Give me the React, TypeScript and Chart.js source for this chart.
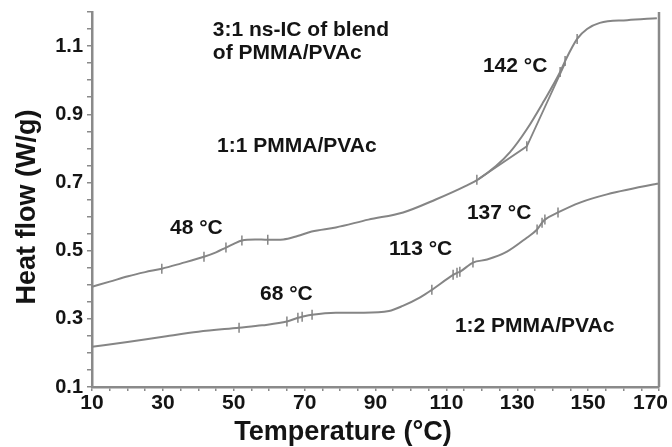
import React, { useEffect, useRef } from 'react';
import { Chart, registerables } from 'chart.js';

Chart.register(...registerables);

// DSC traces: temperature (°C) and heat flow (W/g)
const upperTemp = [10, 15, 20.2, 25, 29.7, 35, 41.6, 45, 47.8, 50, 52.3, 56, 59.6, 64, 68, 72, 78.8, 88, 97.8, 107, 115.5, 119.1, 124, 127.9, 132.7, 137.3, 142.1, 143.5, 146.9, 149.7, 153.3, 161, 169.4];
const upperFlow = [0.394, 0.409, 0.425, 0.437, 0.447, 0.462, 0.482, 0.495, 0.509, 0.52, 0.53, 0.533, 0.532, 0.533, 0.543, 0.556, 0.568, 0.591, 0.612, 0.65, 0.69, 0.71, 0.748, 0.788, 0.856, 0.935, 1.024, 1.056, 1.121, 1.15, 1.168, 1.176, 1.182];

// Onset construction line on the upper trace
const tangentTemp = [119.1, 132.7, 143.5];
const tangentFlow = [0.71, 0.806, 1.05];

const lowerTemp = [10, 20, 31, 40, 51.5, 58, 65, 68.1, 69.3, 72.1, 78.8, 86.7, 93.8, 97.7, 102.6, 105.9, 111.9, 113, 113.8, 117.5, 121.5, 127.1, 132.7, 135.6, 137, 137.8, 141.5, 147.7, 155.3, 168.3, 170];
const lowerFlow = [0.218, 0.232, 0.249, 0.262, 0.274, 0.281, 0.292, 0.303, 0.306, 0.312, 0.318, 0.318, 0.323, 0.338, 0.363, 0.385, 0.429, 0.435, 0.438, 0.465, 0.474, 0.497, 0.538, 0.562, 0.582, 0.591, 0.612, 0.641, 0.665, 0.694, 0.697];

// Analysis tick marks placed on the traces
const markTemp = [29.7, 41.6, 47.8, 52.3, 59.6, 118.6, 132.7, 142.1, 143.5, 146.9, 51.5, 65, 68.1, 69.3, 72.1, 105.9, 111.9, 113, 113.8, 117.5, 135.6, 137, 137.8, 141.5];
const markFlow = [0.447, 0.482, 0.509, 0.53, 0.532, 0.708, 0.806, 1.024, 1.056, 1.121, 0.274, 0.292, 0.303, 0.306, 0.312, 0.385, 0.429, 0.435, 0.438, 0.465, 0.562, 0.582, 0.591, 0.612];

// Axis tick labels
const xLabels = [10, 30, 50, 70, 90, 110, 130, 150, 170];
const yLabels = [0.1, 0.3, 0.5, 0.7, 0.9, 1.1];

// Text notes anchored in data coordinates (left edge, baseline)
const noteText = ['3:1 ns-IC of blend', 'of PMMA/PVAc', '1:1 PMMA/PVAc', '48 °C', '68 °C', '113 °C', '137 °C', '142 °C', '1:2 PMMA/PVAc'];
const noteTemp = [44.1, 44.1, 45.3, 32, 57.4, 93.8, 115.8, 120.3, 112.4];
const noteFlow = [1.129, 1.062, 0.788, 0.55, 0.356, 0.488, 0.594, 1.024, 0.262];

const xTitle = 'Temperature (°C)';
const yTitle = 'Heat flow (W/g)';

const FONT = "'Liberation Sans', Arial, sans-serif";
const AXIS = '#8a8a8a';
const TRACE = '#858585';
const TEXT = '#141414';

const toPoints = (xs: number[], ys: number[]) => xs.map((x, i) => ({ x, y: ys[i] }));

const overlay = {
  id: 'overlay',
  afterDraw(chart: any) {
    const { ctx, chartArea, scales, width } = chart;
    const xs = scales.x;
    const ys = scales.y;
    ctx.save();
    // right frame line
    ctx.strokeStyle = AXIS;
    ctx.lineWidth = 2.5;
    ctx.beginPath();
    ctx.moveTo(chartArea.right, chartArea.top);
    ctx.lineTo(chartArea.right, chartArea.bottom);
    ctx.stroke();

    ctx.fillStyle = TEXT;

    // x tick labels, kept inside the canvas
    ctx.font = `bold 21px ${FONT}`;
    ctx.textAlign = 'center';
    ctx.textBaseline = 'top';
    xLabels.forEach((v) => {
      const label = String(v);
      const half = ctx.measureText(label).width / 2;
      const cx = Math.min(xs.getPixelForValue(v), width - half - 4);
      ctx.fillText(label, cx, chartArea.bottom + 6);
    });

    // notes
    ctx.font = `bold 21px ${FONT}`;
    ctx.textAlign = 'left';
    ctx.textBaseline = 'alphabetic';
    noteText.forEach((t, i) => {
      ctx.fillText(t, xs.getPixelForValue(noteTemp[i]), ys.getPixelForValue(noteFlow[i]));
    });

    // axis titles
    ctx.font = `bold 27px ${FONT}`;
    ctx.textAlign = 'center';
    ctx.fillText(xTitle, 343, 440);
    ctx.translate(35, 207);
    ctx.rotate(-Math.PI / 2);
    ctx.fillText(yTitle, 0, 0);
    ctx.restore();
  },
};

export default function App() {
  const canvasRef = useRef<HTMLCanvasElement | null>(null);

  useEffect(() => {
    if (!canvasRef.current) return;
    const chart = new Chart(canvasRef.current, {
      type: 'line',
      data: {
        datasets: [
          {
            data: toPoints(upperTemp, upperFlow),
            borderColor: TRACE,
            borderWidth: 2,
            pointRadius: 0,
            cubicInterpolationMode: 'monotone',
          },
          {
            data: toPoints(tangentTemp, tangentFlow),
            borderColor: TRACE,
            borderWidth: 1.8,
            pointRadius: 0,
            tension: 0,
          },
          {
            data: toPoints(lowerTemp, lowerFlow),
            borderColor: TRACE,
            borderWidth: 2,
            pointRadius: 0,
            cubicInterpolationMode: 'monotone',
          },
          {
            data: toPoints(markTemp, markFlow),
            showLine: false,
            pointStyle: 'line',
            rotation: 90,
            pointRadius: 5,
            pointBorderWidth: 1.5,
            pointBorderColor: TRACE,
            borderColor: TRACE,
          },
        ],
      },
      options: {
        responsive: false,
        animation: false,
        devicePixelRatio: 1,
        layout: { padding: { top: 12, right: 13, left: 0, bottom: 0 } },
        plugins: { legend: { display: false }, tooltip: { enabled: false } },
        scales: {
          x: {
            type: 'linear',
            min: 10,
            max: 170,
            afterFit(s: any) {
              s.height = 60;
              s.paddingLeft = 0;
              s.paddingRight = 0;
            },
            ticks: {
              stepSize: 5,
              autoSkip: false,
              maxRotation: 0,
              padding: 3,
              font: { family: FONT, size: 21, weight: 'bold' },
              // labels are painted by the overlay plugin
              callback: () => '',
            },
            grid: { drawOnChartArea: false, drawTicks: true, tickLength: 4, color: AXIS, lineWidth: 1.5 },
            border: { color: AXIS, width: 2.5 },
          },
          y: {
            min: 0.1,
            max: 1.2,
            afterFit(s: any) {
              s.width = 92;
              s.paddingTop = 0;
              s.paddingBottom = 0;
            },
            ticks: {
              stepSize: 0.05,
              autoSkip: false,
              padding: 4,
              color: TEXT,
              font: { family: FONT, size: 20, weight: 'bold' },
              callback: (v: any) => {
                const c = Math.round(v * 100);
                const hit = yLabels.find((l) => Math.round(l * 100) === c);
                return hit !== undefined ? hit.toFixed(1) : '';
              },
            },
            grid: { drawOnChartArea: false, drawTicks: true, tickLength: 5, color: AXIS, lineWidth: 1.5 },
            border: { color: AXIS, width: 2.5 },
          },
        },
      },
      plugins: [overlay],
    } as any);
    return () => chart.destroy();
  }, []);

  return (
    <div style={{ position: 'absolute', left: 0, top: 0, width: 672, height: 447, background: '#fff' }}>
      <canvas ref={canvasRef} width={672} height={447} />
    </div>
  );
}
